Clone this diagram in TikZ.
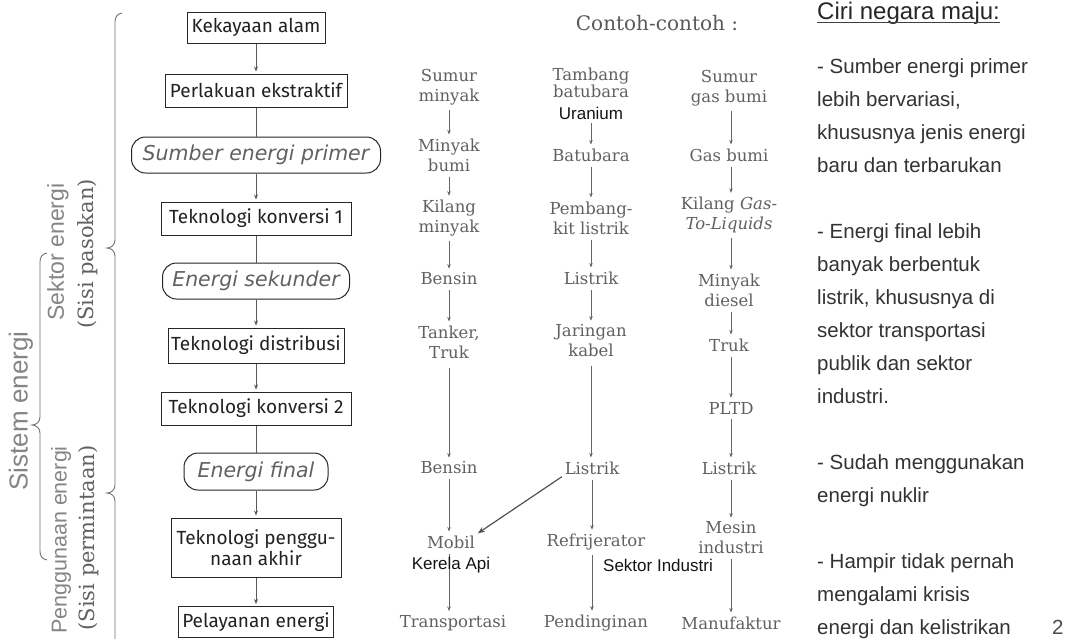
\documentclass[tikz,border=0pt]{standalone}
\usepackage{fontspec}
\setmainfont{Liberation Sans}
\newfontfamily\boxfont{Fira Sans}
\newfontfamily\exfont{DejaVu Serif}
\newfontfamily\obfont{DejaVu Sans}
\usetikzlibrary{arrows.meta}
\definecolor{boxtext}{HTML}{222222}
\begin{document}
\begin{tikzpicture}[x=1pt,y=-1pt,
  mainbox/.style={draw=black!85, line width=1pt, text=boxtext, font=\boxfont\fontsize{19}{21}\selectfont, inner sep=0pt, align=center},
  energybox/.style={draw=black!85, line width=1pt, rounded corners=14pt, text=black!62, font=\obfont\itshape\fontsize{20.5}{22}\selectfont, inner sep=0pt},
  extext/.style={text=black!62, font=\exfont\fontsize{16.5}{20}\selectfont, align=center, inner sep=1pt},
  sanslab/.style={text=black!92, font=\fontsize{17}{19}\selectfont, inner sep=0pt},
  flow/.style={draw=black!65, line width=0.7pt, -{Stealth[length=5pt,width=4pt]}, shorten >=2pt},
  flowline/.style={draw=black!65, line width=0.7pt},
  exarrow/.style={draw=black!60, line width=0.6pt, -{Stealth[length=4.5pt,width=3.5pt]}, shorten <=4pt, shorten >=3pt},
  bracepath/.style={draw=black!55, line width=0.9pt},
  sidelab/.style={text=black!48, font=\fontsize{23}{25}\selectfont, rotate=90, inner sep=0pt},
  sideser/.style={text=black!62, font=\exfont\fontsize{21}{23}\selectfont, rotate=90, inner sep=0pt},
  note/.style={text=black!80, font=\fontsize{20.5}{22}\selectfont, anchor=base west, inner sep=0pt},
]
\useasboundingbox[fill=white] (0,0) rectangle (1066,638);

% ---------- braces ----------
\draw[bracepath] (122,13) .. controls (117,14) and (115,17) .. (115,22)
  -- (115,240) .. controls (115,245) and (111,248) .. (107,248)
  .. controls (111,248) and (115,251) .. (115,256)
  -- (115,485) .. controls (115,490) and (111,493) .. (107,493)
  .. controls (111,493) and (115,496) .. (115,501) -- (115,640);
\draw[bracepath] (47,253) .. controls (42,254) and (40,257) .. (40,262)
  -- (40,417) .. controls (40,422) and (36,425) .. (32,425)
  .. controls (36,425) and (40,428) .. (40,433)
  -- (40,551) .. controls (40,556) and (42,559) .. (47,560);

\node[sidelab, font=\fontsize{26}{28}\selectfont] (sis) at (21,411) {Sistem energi};
\node[sidelab] (sek) at (58,252) {Sektor energi};
\node[sideser] (pas) at (88,254) {(Sisi pasokan)};
\node[sidelab, font=\fontsize{21.5}{23}\selectfont] (pen) at (61,540) {Penggunaan energi};
\node[sideser] (per) at (89,538) {(Sisi permintaan)};

% ---------- main column ----------
\node[mainbox, minimum width=138, minimum height=31] (k1) at (256,27.5) {Kekayaan alam};
\node[mainbox, minimum width=182, minimum height=33] (k2) at (256,90.5) {Perlakuan ekstraktif};
\node[energybox, minimum width=249, minimum height=36] (k3) at (256,155) {Sumber energi primer};
\node[mainbox, minimum width=190, minimum height=33] (k4) at (256,218.5) {Teknologi konversi 1};
\node[energybox, minimum width=187, minimum height=36] (k5) at (256,281) {Energi sekunder};
\node[mainbox, minimum width=176, minimum height=35] (k6) at (256,345.5) {Teknologi distribusi};
\node[mainbox, minimum width=190, minimum height=33] (k7) at (256,408.5) {Teknologi konversi 2};
\node[energybox, minimum width=144, minimum height=37] (k8) at (256,471.5) {Energi final};
\node[mainbox, minimum width=170, minimum height=59] (k9) at (256,547.5) {Teknologi penggu-\\naan akhir};
\node[mainbox, minimum width=155, minimum height=31] (k10) at (256,622) {Pelayanan energi};

\draw[flow] (k1) -- (k2);
\draw[flowline] (k2) -- (k3);
\draw[flow] (k3) -- (k4);
\draw[flowline] (k4) -- (k5);
\draw[flow] (k5) -- (k6);
\draw[flow] (k6) -- (k7);
\draw[flowline] (k7) -- (k8);
\draw[flow] (k8) -- (k9);
\draw[flow] (k9) -- (k10);

% ---------- examples ----------
\node[extext, font=\exfont\fontsize{20}{22}\selectfont, text=black!65] (cc) at (657,23) {Contoh-contoh :};

% column 1
\node[extext] (s1a) at (449,87) {Sumur\\minyak};
\node[extext] (s1b) at (449,155) {Minyak\\bumi};
\node[extext] (s1c) at (449,218) {Kilang\\minyak};
\node[extext] (s1d) at (449,279) {Bensin};
\node[extext] (s1e) at (449,342) {Tanker,\\Truk};
\node[extext] (s1f) at (449,468) {Bensin};
\node[extext] (s1g) at (451,542) {Mobil};
\node[extext] (s1h) at (453,623) {Transportasi};

% column 2
\node[extext, font=\exfont\fontsize{16.5}{17.5}\selectfont] (s2a) at (591,83) {Tambang\\batubara};
\node[sanslab] (uran) at (591,113) {Uranium};
\node[extext] (s2b) at (591,155) {Batubara};
\node[extext] (s2c) at (591,218) {Pembang-\\kit listrik};
\node[extext] (s2d) at (591,278) {Listrik};
\node[extext] (s2e) at (591,341) {Jaringan\\kabel};
\node[extext] (s2f) at (592,468) {Listrik};
\node[extext] (s2g) at (596,542) {Refrijerator};
\node[extext] (s2h) at (596,623) {Pendinginan};

% column 3
\node[extext] (s3a) at (729,88) {Sumur\\gas bumi};
\node[extext] (s3b) at (729,155) {Gas bumi};
\node[extext] (s3c) at (729,215) {Kilang \textit{Gas-}\\\textit{To-Liquids}};
\node[extext] (s3d) at (729,290) {Minyak\\diesel};
\node[extext] (s3e) at (729,345) {Truk};
\node[extext] (s3f) at (731,408) {PLTD};
\node[extext] (s3g) at (729,468) {Listrik};
\node[extext] (s3h) at (731,538) {Mesin\\industri};
\node[extext] (s3i) at (731,623) {Manufaktur};

% arrows column 1
\draw[exarrow] (s1a.south) -- (s1a.south |- s1b.north);
\draw[exarrow] (s1b.south) -- (s1b.south |- s1c.north);
\draw[exarrow] (s1c.south) -- (s1c.south |- s1d.north);
\draw[exarrow] (s1d.south) -- (s1d.south |- s1e.north);
\draw[exarrow, shorten <=8pt] (s1e.south) -- (s1e.south |- s1f.north);
\draw[exarrow] (s1f.south) -- (s1f.south |- s1g.north);
\draw[exarrow] (s1f.south |- s1g.south) -- (s1f.south |- s1h.north);

% arrows column 2
\draw[exarrow] (uran.south) -- (uran.south |- s2b.north);
\draw[exarrow] (s2b.south) -- (s2b.south |- s2c.north);
\draw[exarrow] (s2c.south) -- (s2c.south |- s2d.north);
\draw[exarrow] (s2d.south) -- (s2d.south |- s2e.north);
\draw[exarrow, shorten <=8pt] (s2e.south) -- (s2e.south |- s2f.north);
\draw[exarrow] (s2f.south) -- (s2f.south |- s2g.north);
\draw[exarrow] (s2f.south |- s2g.south) -- (s2f.south |- s2h.north);
\draw[draw=black!68, line width=1.2pt, -{Stealth[length=7pt,width=5.5pt]}, shorten <=2pt, shorten >=2pt] (s2f.south west) -- (s1g.north east);

% arrows column 3
\draw[exarrow] (s3a.south -| s3f) -- (s3f |- s3b.north);
\draw[exarrow] (s3b.south -| s3f) -- (s3f |- s3c.north);
\draw[exarrow] (s3c.south -| s3f) -- (s3f |- s3d.north);
\draw[exarrow] (s3d.south -| s3f) -- (s3f |- s3e.north);
\draw[exarrow] (s3e.south -| s3f) -- (s3f.north);
\draw[exarrow] (s3f.south) -- (s3f |- s3g.north);
\draw[exarrow] (s3g.south -| s3f) -- (s3f |- s3h.north);
\draw[exarrow] (s3h.south -| s3f) -- (s3f |- s3i.north);

\node[sanslab] (kereta) at (451,565) {Kerela Api};
\node[sanslab] (sektor) at (658,565) {Sektor Industri};

% ---------- right notes ----------
\node[note, font=\fontsize{24}{26}\selectfont, text=black!85] (ciri) at (817,19) {Ciri negara maju:};
\draw[black!75, line width=0.9pt] ([yshift=-3pt]ciri.base west) -- ([yshift=-3pt]ciri.base east);
\node[note] (r1)  at (817,73)  {- Sumber energi primer};
\node[note] (r2)  at (817,106) {lebih bervariasi,};
\node[note] (r3)  at (817,139) {khususnya jenis energi};
\node[note] (r4)  at (817,172) {baru dan terbarukan};
\node[note] (r5)  at (817,238) {- Energi final lebih};
\node[note] (r6)  at (817,271) {banyak berbentuk};
\node[note] (r7)  at (817,304) {listrik, khususnya di};
\node[note] (r8)  at (817,337) {sektor transportasi};
\node[note] (r9)  at (817,370) {publik dan sektor};
\node[note] (r10) at (817,403) {industri.};
\node[note] (r11) at (817,469) {- Sudah menggunakan};
\node[note] (r12) at (817,502) {energi nuklir};
\node[note] (r13) at (817,568) {- Hampir tidak pernah};
\node[note] (r14) at (817,601) {mengalami krisis};
\node[note] (r15) at (817,634) {energi dan kelistrikan};
\node[note, text=black!70] (pg) at (1052,634) {2};
\end{tikzpicture}
\end{document}
